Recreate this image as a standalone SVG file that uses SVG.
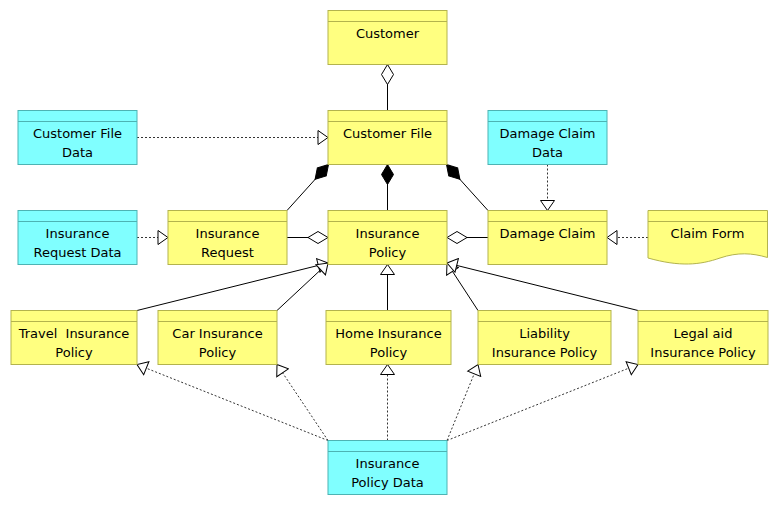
<svg xmlns="http://www.w3.org/2000/svg" width="778" height="505" viewBox="0 0 778 505">
<style>
.y{fill:#FFFF80;stroke:#B3B34D;stroke-width:1}
.c{fill:#80FFFF;stroke:#4DB3B3;stroke-width:1}
.hy{stroke:#B3B34D;stroke-width:1}
.hc{stroke:#4DB3B3;stroke-width:1}
text{font-family:"DejaVu Sans","Liberation Sans",sans-serif;font-size:13px;fill:#000;text-anchor:middle;white-space:pre}
.s{stroke:#000;stroke-width:1;fill:none}
.d{stroke:#333;stroke-width:1;fill:none;stroke-dasharray:2,2}
</style>
<defs>
<marker id="tri" markerUnits="userSpaceOnUse" viewBox="-1 -1 12 16" refX="10" refY="7" markerWidth="12" markerHeight="16" orient="auto">
<path d="M0,0 L10,7 L0,14 Z" fill="#fff" stroke="#000" stroke-width="1"/>
</marker>
<marker id="hd" markerUnits="userSpaceOnUse" viewBox="-1 -1 22 14" refX="0" refY="6" markerWidth="22" markerHeight="14" orient="auto">
<path d="M0,6 L10,0 L20,6 L10,12 Z" fill="#fff" stroke="#000" stroke-width="1"/>
</marker>
<marker id="fd" markerUnits="userSpaceOnUse" viewBox="-1 -1 22 14" refX="0" refY="6" markerWidth="22" markerHeight="14" orient="auto">
<path d="M0,6 L10,0 L20,6 L10,12 Z" fill="#000" stroke="#000" stroke-width="1"/>
</marker>
</defs>
<g id="connectors">
<line class="s" x1="387.5" y1="64.5" x2="387.5" y2="110.5" marker-start="url(#hd)"/>
<line class="d" x1="137" y1="137.5" x2="328" y2="137.5" marker-end="url(#tri)"/>
<line class="s" x1="328.5" y1="164.5" x2="287" y2="210.5" marker-start="url(#fd)"/>
<line class="s" x1="387.5" y1="164.5" x2="387.5" y2="210.5" marker-start="url(#fd)"/>
<line class="s" x1="446.5" y1="164.5" x2="488" y2="210.5" marker-start="url(#fd)"/>
<line class="d" x1="547.5" y1="164.5" x2="547.5" y2="210.5" marker-end="url(#tri)"/>
<line class="d" x1="137" y1="237.5" x2="168" y2="237.5" marker-end="url(#tri)"/>
<line class="s" x1="328" y1="237.5" x2="287" y2="237.5" marker-start="url(#hd)"/>
<line class="s" x1="447" y1="237.5" x2="488" y2="237.5" marker-start="url(#hd)"/>
<line class="d" x1="648" y1="237.5" x2="607" y2="237.5" marker-end="url(#tri)"/>
<line class="s" x1="137" y1="310.5" x2="328" y2="263" marker-end="url(#tri)"/>
<line class="s" x1="277" y1="310.5" x2="328" y2="263" marker-end="url(#tri)"/>
<line class="s" x1="387.5" y1="310.5" x2="387.5" y2="264.5" marker-end="url(#tri)"/>
<line class="s" x1="478" y1="310.5" x2="447" y2="263" marker-end="url(#tri)"/>
<line class="s" x1="638" y1="310.5" x2="447" y2="263" marker-end="url(#tri)"/>
<line class="d" x1="328" y1="440.5" x2="137" y2="364.5" marker-end="url(#tri)"/>
<line class="d" x1="328" y1="440.5" x2="277" y2="364.5" marker-end="url(#tri)"/>
<line class="d" x1="387.5" y1="440.5" x2="387.5" y2="364.5" marker-end="url(#tri)"/>
<line class="d" x1="447" y1="440.5" x2="478" y2="364.5" marker-end="url(#tri)"/>
<line class="d" x1="447" y1="440.5" x2="638" y2="364.5" marker-end="url(#tri)"/>
</g>
<g id="customer"><rect class="y" x="328" y="10.5" width="119" height="54"/><line class="hy" x1="328" y1="21.5" x2="447" y2="21.5"/><text x="387.5" y="38">Customer</text></g>
<g id="customer-file"><rect class="y" x="328" y="110.5" width="119" height="54"/><line class="hy" x1="328" y1="121.5" x2="447" y2="121.5"/><text x="387.5" y="138">Customer File</text></g>
<g id="customer-file-data"><rect class="c" x="18" y="110.5" width="119" height="54"/><line class="hc" x1="18" y1="121.5" x2="137" y2="121.5"/><text x="77.5" y="138">Customer File</text><text x="77.5" y="157">Data</text></g>
<g id="damage-claim-data"><rect class="c" x="488" y="110.5" width="119" height="54"/><line class="hc" x1="488" y1="121.5" x2="607" y2="121.5"/><text x="547.5" y="138">Damage Claim</text><text x="547.5" y="157">Data</text></g>
<g id="insurance-request-data"><rect class="c" x="18" y="210.5" width="119" height="54"/><line class="hc" x1="18" y1="221.5" x2="137" y2="221.5"/><text x="77.5" y="238">Insurance</text><text x="77.5" y="257">Request Data</text></g>
<g id="insurance-request"><rect class="y" x="168" y="210.5" width="119" height="54"/><line class="hy" x1="168" y1="221.5" x2="287" y2="221.5"/><text x="227.5" y="238">Insurance</text><text x="227.5" y="257">Request</text></g>
<g id="insurance-policy"><rect class="y" x="328" y="210.5" width="119" height="54"/><line class="hy" x1="328" y1="221.5" x2="447" y2="221.5"/><text x="387.5" y="238">Insurance</text><text x="387.5" y="257">Policy</text></g>
<g id="damage-claim"><rect class="y" x="488" y="210.5" width="119" height="54"/><line class="hy" x1="488" y1="221.5" x2="607" y2="221.5"/><text x="547.5" y="238">Damage Claim</text></g>
<g id="claim-form"><path class="y" d="M648,210.5 H767.5 V257.5 C752,253 738,252 720,258 C700,265 680,267 648,258 Z"/><line class="hy" x1="648" y1="221.5" x2="767.5" y2="221.5"/><text x="707.5" y="238">Claim Form</text></g>
<g id="travel-insurance-policy"><rect class="y" x="11" y="310.5" width="126" height="54"/><line class="hy" x1="11" y1="321.5" x2="137" y2="321.5"/><text x="74" y="338">Travel  Insurance</text><text x="74" y="357">Policy</text></g>
<g id="car-insurance-policy"><rect class="y" x="158" y="310.5" width="119" height="54"/><line class="hy" x1="158" y1="321.5" x2="277" y2="321.5"/><text x="217.5" y="338">Car Insurance</text><text x="217.5" y="357">Policy</text></g>
<g id="home-insurance-policy"><rect class="y" x="326" y="310.5" width="125" height="54"/><line class="hy" x1="326" y1="321.5" x2="451" y2="321.5"/><text x="388.5" y="338">Home Insurance</text><text x="388.5" y="357">Policy</text></g>
<g id="liability-insurance-policy"><rect class="y" x="478" y="310.5" width="133" height="54"/><line class="hy" x1="478" y1="321.5" x2="611" y2="321.5"/><text x="544.5" y="338">Liability</text><text x="544.5" y="357">Insurance Policy</text></g>
<g id="legal-aid-insurance-policy"><rect class="y" x="638" y="310.5" width="130" height="54"/><line class="hy" x1="638" y1="321.5" x2="768" y2="321.5"/><text x="703" y="338">Legal aid</text><text x="703" y="357">Insurance Policy</text></g>
<g id="insurance-policy-data"><rect class="c" x="328" y="440.5" width="119" height="54"/><line class="hc" x1="328" y1="451.5" x2="447" y2="451.5"/><text x="387.5" y="468">Insurance</text><text x="387.5" y="487">Policy Data</text></g>
</svg>
